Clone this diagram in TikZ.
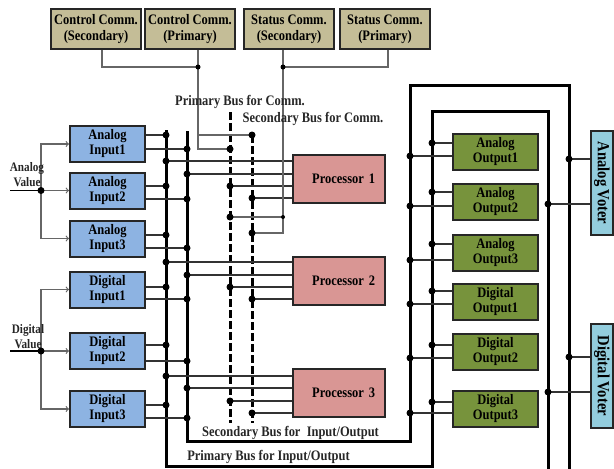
\documentclass[tikz,border=0pt]{standalone}
\usepackage{fontspec}
\setmainfont{Liberation Serif}[FakeStretch=0.86]
\usetikzlibrary{positioning}

\definecolor{inblue}{HTML}{8DB3E2}
\definecolor{procred}{HTML}{D99694}
\definecolor{outgreen}{HTML}{77933C}
\definecolor{commtan}{HTML}{C4BD97}
\definecolor{votecyan}{HTML}{93CDDD}

\tikzset{
  blk/.style={draw=black!85,line width=2pt,inner sep=0pt,align=center,
    font=\bfseries\fontsize{14.5}{15}\selectfont},
  inbox/.style={blk,fill=inblue,minimum width=75pt,minimum height=36pt},
  procbox/.style={blk,fill=procred,minimum width=92pt,minimum height=48pt,
    text width=72pt,align=right},
  outbox/.style={blk,fill=outgreen,minimum width=85pt,minimum height=36pt},
  commbox/.style={blk,fill=commtan,minimum width=90pt,minimum height=40pt,
    font=\bfseries\fontsize{14.5}{16}\selectfont},
  voter/.style={blk,fill=votecyan,rotate=-90,minimum width=104pt,minimum height=22pt,
    font=\bfseries\fontsize{17}{18}\selectfont},
  bus/.style={line width=3pt},
  dbus/.style={line width=3pt,dash pattern=on 8pt off 3pt},
  wire/.style={line width=1.3pt,black!80},
  cwire/.style={line width=1.2pt,black!60},
  lbl/.style={font=\bfseries\fontsize{14.5}{15}\selectfont,inner sep=0pt,text=black!85},
  vlbl/.style={font=\bfseries\fontsize{13}{14.5}\selectfont,inner sep=0pt,align=center,text=black!85},
}

\begin{document}
\begin{tikzpicture}[x=1pt,y=-1pt]
\useasboundingbox (0,0) rectangle (614,469);

% comm. units
\node[commbox] (cs) at (96,29) {Control Comm.\\(Secondary)};
\node[commbox] (cp) at (190,29) {Control Comm.\\(Primary)};
\node[commbox] (ss) at (289,29) {Status Comm.\\(Secondary)};
\node[commbox] (sp) at (385,29) {Status Comm.\\(Primary)};

% inputs
\node[inbox] (ai1) at (107.5,144) {Analog\\Input1};
\node[inbox] (ai2) at (107.5,190.5) {Analog\\Input2};
\node[inbox] (ai3) at (107.5,238.5) {Analog\\Input3};
\node[inbox] (di1) at (107.5,289.5) {Digital\\Input1};
\node[inbox] (di2) at (107.5,351) {Digital\\Input2};
\node[inbox] (di3) at (107.5,409) {Digital\\Input3};

% processors
\node[procbox] (p1) at (339,179) {Processor 1};
\node[procbox] (p2) at (339,281) {Processor 2};
\node[procbox] (p3) at (339,393) {Processor 3};

% outputs
\node[outbox] (ao1) at (495.5,151.5) {Analog\\Output1};
\node[outbox] (ao2) at (495.5,201.5) {Analog\\Output2};
\node[outbox] (ao3) at (495.5,252.5) {Analog\\Output3};
\node[outbox] (do1) at (495.5,301.5) {Digital\\Output1};
\node[outbox] (do2) at (495.5,351.5) {Digital\\Output2};
\node[outbox] (do3) at (495.5,409) {Digital\\Output3};

% voters
\node[voter] (av) at (602,183) {Analog Voter};
\node[voter] (dv) at (602,376) {Digital Voter};

% buses
\coordinate (busA) at (166,130);
\coordinate (busB) at (187,131);
\coordinate (busC) at (230,112);
\coordinate (busD) at (252,135);
\coordinate (outI) at (432,111);
\coordinate (outO) at (410,85);
\coordinate (rI) at (548,111);
\coordinate (rO) at (569,85);

\draw[bus] (busA) -- (166,466) -| (outI) -- (rI) -- (548,469);
\draw[bus] (busB) -- (187,441) -| (outO) -- (rO) -- (569,469);
\draw[dbus] (busC) -- (230,423);
\draw[dbus] (busD) -- (252,423);

% inputs to buses
\foreach \b/\ya/\yb in {ai1/135/149, ai2/186/199, ai3/235/248,
                        di1/287/299, di2/345/361, di3/405/418}{
  \draw[wire] (\b.east |- 0,\ya) -- (busA |- 0,\ya);
  \draw[wire] (\b.east |- 0,\yb) -- (busB |- 0,\yb);
  \fill (busA |- 0,\ya) circle (3.5) (busB |- 0,\yb) circle (3.5);
}

% buses to processors
\foreach \p/\ya/\yb/\yc/\yd in {p1/161/174/186/198, p2/262/275/287/299, p3/376/388/401/413}{
  \foreach \bs/\y in {busA/\ya, busB/\yb, busC/\yc, busD/\yd}{
    \draw[wire] (\bs |- 0,\y) -- (\p.west |- 0,\y);
    \fill (\bs |- 0,\y) circle (3.5);
  }
}

% buses to outputs
\foreach \o/\yi/\yo in {ao1/143/156, ao2/192/206, ao3/244/260,
                        do1/291/304, do2/345/358, do3/402/413}{
  \draw[wire] (outI |- 0,\yi) -- (\o.west |- 0,\yi);
  \draw[wire] (outO |- 0,\yo) -- (\o.west |- 0,\yo);
  \fill (outI |- 0,\yi) circle (3.5) (outO |- 0,\yo) circle (3.5);
}

% voters
\draw[wire] (rO |- 0,159) -- (av.south |- 0,159);
\draw[wire] (rI |- 0,204) -- (av.south |- 0,204);
\draw[wire] (rO |- 0,357) -- (dv.south |- 0,357);
\draw[wire] (rI |- 0,392) -- (dv.south |- 0,392);
\fill (rO |- 0,159) circle (3.5) (rI |- 0,204) circle (3.5)
      (rO |- 0,357) circle (3.5) (rI |- 0,392) circle (3.5);

% comm. lines
\draw[cwire] (cs.south -| 102,0) |- (198,67);
\draw[cwire] (cp.south -| 198,0) -- (198,149) -- (busC |- 0,149);
\draw[cwire] (198,135) -- (busD);
\draw[cwire] (ss.south -| 283,0) -- (283,233) -- (busD |- 0,233);
\draw[cwire] (283,217) -- (busC |- 0,217);
\draw[cwire] (sp.south -| 388,0) |- (283,67);
\fill (198,67) circle (2.5) (283,67) circle (2.5) (283,217) circle (2);
\fill (busC |- 0,149) circle (3.5) (busD) circle (3.5)
      (busC |- 0,217) circle (3.5) (busD |- 0,233) circle (3.5);

% field values
\coordinate (aval) at (41,190.5);
\coordinate (dval) at (41,351);
\draw[line width=1.6pt] (10,190.5) -- (aval);
\draw[line width=1.6pt] (10,351) -- (dval);
\foreach \b in {ai1,ai2,ai3} \draw[cwire,->] (aval) |- (\b.west);
\foreach \b in {di1,di2,di3} \draw[cwire,->] (dval) |- (\b.west);
\fill (aval) circle (3.5) (dval) circle (3.5);
\node[vlbl] (alab) at (27,174.5) {Analog\\Value};
\node[vlbl] (dlab) at (28,336.5) {Digital\\Value};

% bus names
\node[lbl] (pcomm) at (240,102) {Primary Bus for Comm.};
\node[lbl] (scomm) at (313,119) {Secondary Bus for Comm.};
\node[lbl] (sio) at (290.5,433) {Secondary Bus for \ Input/Output};
\node[lbl] (pio) at (268.5,457) {Primary Bus for Input/Output};

\end{tikzpicture}
\end{document}
